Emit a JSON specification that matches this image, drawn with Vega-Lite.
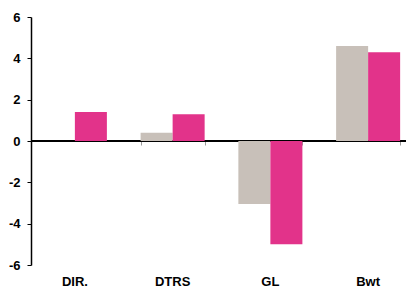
{
  "$schema": "https://vega.github.io/schema/vega-lite/v6.json",
  "autosize": {"type": "none"},
  "padding": {"left": 31, "top": 17, "right": 0, "bottom": 23},
  "width": 375,
  "height": 248,
  "background": "white",
  "config": {"view": {"stroke": null}, "font": "Liberation Sans"},
  "data": {"values": [
    {"cat": "DIR.", "series": "A", "value": 0},
    {"cat": "DIR.", "series": "B", "value": 1.4},
    {"cat": "DTRS", "series": "A", "value": 0.4},
    {"cat": "DTRS", "series": "B", "value": 1.3},
    {"cat": "GL", "series": "A", "value": -3.05},
    {"cat": "GL", "series": "B", "value": -5.0},
    {"cat": "Bwt", "series": "A", "value": 4.6},
    {"cat": "Bwt", "series": "B", "value": 4.3}
  ]},
  "resolve": {"axis": {"x": "independent"}},
  "layer": [
    {
      "mark": {"type": "rule", "color": "black", "strokeWidth": 1.5},
      "encoding": {"y": {"datum": 0, "type": "quantitative"}}
    },
    {
      "mark": {"type": "bar"},
      "encoding": {
        "x": {
          "field": "cat", "type": "nominal", "sort": null,
          "scale": {"range": [-5, 386], "paddingInner": 0.345, "paddingOuter": 0.1725},
          "axis": {"orient": "bottom", "title": null, "domain": false, "ticks": false, "tickSize": 0,
                   "labelAngle": 0, "labelFontSize": 13, "labelFontWeight": "bold", "labelColor": "black",
                   "labelPadding": 10, "labelBaseline": "top"}
        },
        "xOffset": {"field": "series", "type": "nominal"},
        "y": {
          "field": "value", "type": "quantitative",
          "scale": {"domain": [-6, 6], "nice": false, "zero": false},
          "axis": {"title": null, "values": [-6, -4, -2, 0, 2, 4, 6], "grid": false,
                   "labelExpr": "'' + datum.value",
                   "domainColor": "black", "domainWidth": 1.5, "tickColor": "black", "tickSize": 4,
                   "labelFontSize": 13, "labelFontWeight": "bold", "labelColor": "black", "labelPadding": 7}
        },
        "color": {
          "field": "series", "type": "nominal", "legend": null,
          "scale": {"domain": ["A", "B"], "range": ["#C8C0B9", "#E2338A"]}
        }
      }
    },
    {
      "mark": {"type": "point", "opacity": 0},
      "encoding": {
        "x": {
          "field": "cat", "type": "nominal", "sort": null,
          "axis": {"orient": "bottom", "offset": -124, "title": null, "domain": false, "labels": false,
                   "ticks": true, "tickBand": "extent", "tickColor": "#999999", "tickSize": 4,
                   "values": ["DTRS", "GL", "Bwt"]}
        },
        "y": {"field": "value", "type": "quantitative"}
      }
    }
  ]
}
